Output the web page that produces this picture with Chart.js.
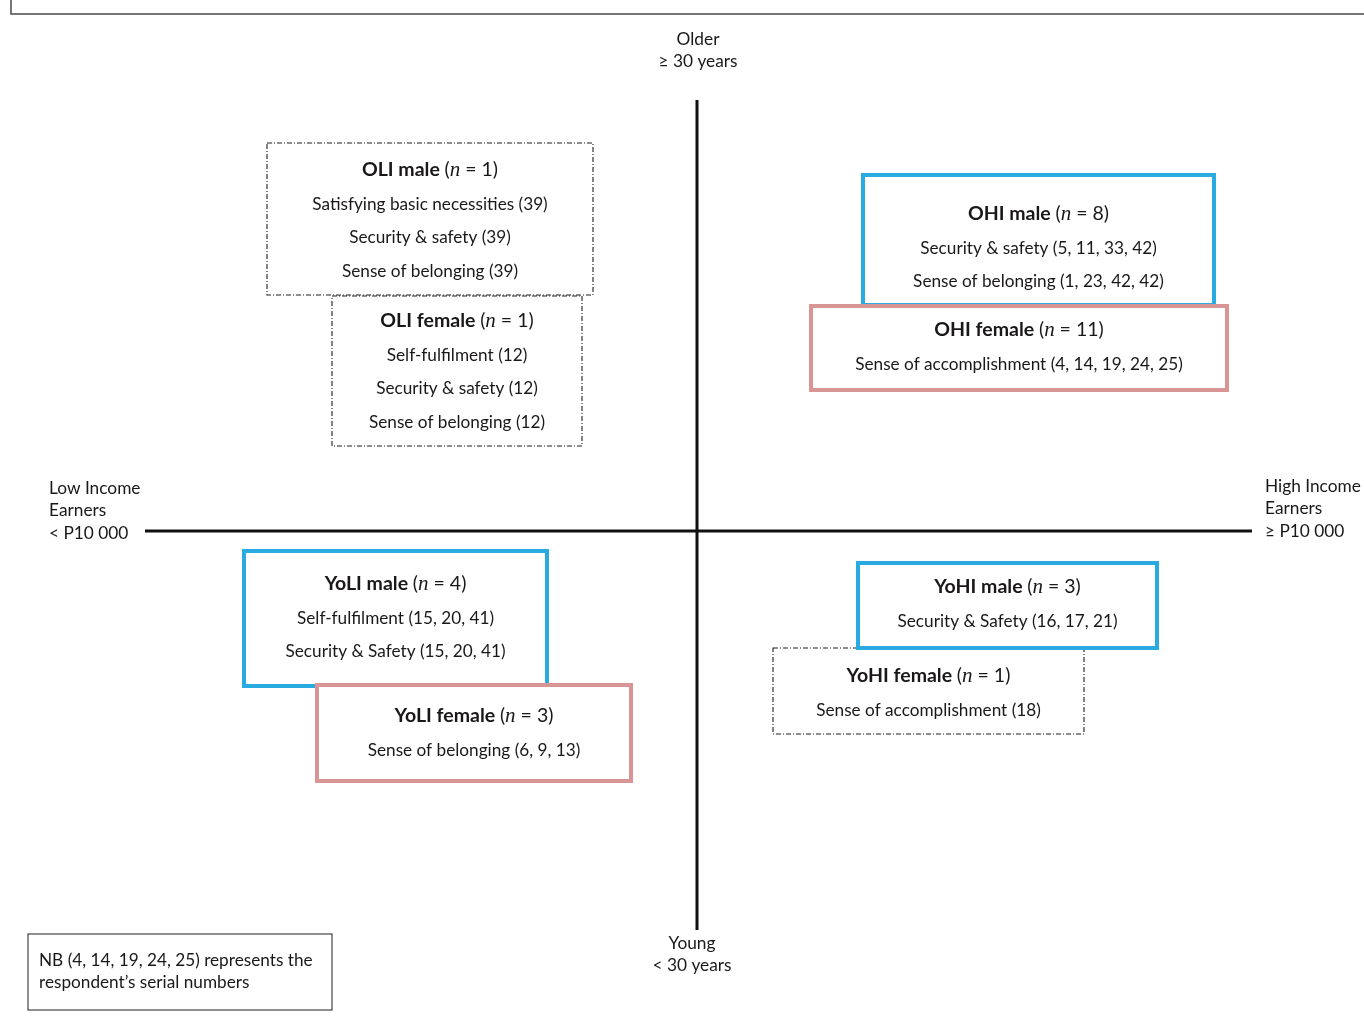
<!DOCTYPE html>
<html>
<head>
<meta charset="utf-8">
<script src="https://cdn.jsdelivr.net/npm/chart.js@4/dist/chart.umd.min.js"></script>
<style>
  html, body { margin: 0; padding: 0; background: #fff; }
  #wrap { width: 1364px; height: 1017px; }
</style>
</head>
<body>
<div id="wrap"><canvas id="quadChart" width="1364" height="1017"></canvas></div>
<script>
// groups shown in the quadrants
const groupNames = ['OLI male', 'OLI female', 'OHI male', 'OHI female',
                    'YoLI male', 'YoLI female', 'YoHI female', 'YoHI male'];
const groupN = [1, 1, 8, 11, 4, 3, 1, 3];
const groupItems = [
    ['Satisfying basic necessities (39)', 'Security & safety (39)', 'Sense of belonging (39)'],
    ['Self-fulfilment (12)', 'Security & safety (12)', 'Sense of belonging (12)'],
    ['Security & safety (5, 11, 33, 42)', 'Sense of belonging (1, 23, 42, 42)'],
    ['Sense of accomplishment (4, 14, 19, 24, 25)'],
    ['Self-fulfilment (15, 20, 41)', 'Security & Safety (15, 20, 41)'],
    ['Sense of belonging (6, 9, 13)'],
    ['Sense of accomplishment (18)'],
    ['Security & Safety (16, 17, 21)']
];
const groupKind = ['single', 'single', 'male', 'female', 'male', 'female', 'single', 'male'];

// axis labels
const topLabel = ['Older', '\u2265 30 years'];
const bottomLabel = ['Young', '< 30 years'];
const leftLabel = ['Low Income', 'Earners', '< P10 000'];
const rightLabel = ['High Income', 'Earners', '\u2265 P10 000'];
const noteLines = ['NB (4, 14, 19, 24, 25) represents the', 'respondent\u2019s serial numbers'];

// axis extents (chart units, centre of the cross = 0,0)
const incomeAxis = [-552, 555];
const ageAxis = [-399, 431];

// layout of the boxes in chart units: [left, right, top, bottom, title centre]
const boxLayout = [
    [-430, -104, 388, 236, 361],
    [-365, -115, 235, 85, 210],
    [166, 517, 356, 226, 317],
    [114, 530, 225, 141, 201],
    [-453, -150, -20, -155, -53],
    [-380, -66, -154, -250, -185],
    [76, 387, -117, -203, -145],
    [161, 460, -32, -117, -56]
];

const styles = {
    single: { color: '#1e1e1e', width: 1.1, dash: [5, 2, 1, 2] },
    male: { color: '#29abe2', width: 4, dash: [] },
    female: { color: '#d99594', width: 4, dash: [] }
};
const textColor = '#1a1718';
const sans = 'Lato, "Open Sans", sans-serif';

const quadPlugin = {
    id: 'quadPlugin',
    afterDatasetsDraw(chart) {
        const ctx = chart.ctx,
            xs = chart.scales.x,
            ys = chart.scales.y,
            px = v => xs.getPixelForValue(v),
            py = v => ys.getPixelForValue(v);
        ctx.save();

        // outer frame (top and left only)
        ctx.strokeStyle = '#4a4a4a';
        ctx.lineWidth = 1.5;
        ctx.beginPath();
        ctx.moveTo(px(-686), py(486 + 531));
        ctx.lineTo(px(-686), py(517));
        ctx.lineTo(px(667), py(517));
        ctx.stroke();

        ctx.textBaseline = 'middle';
        ctx.fillStyle = textColor;

        // axis end labels
        ctx.font = '17.3px ' + sans;
        ctx.textAlign = 'center';
        topLabel.forEach((t, i) => ctx.fillText(t, px(1), py(492 - i * 22)));
        bottomLabel.forEach((t, i) => ctx.fillText(t, px(-5), py(-412 - i * 22)));
        ctx.textAlign = 'left';
        leftLabel.forEach((t, i) => ctx.fillText(t, px(-648), py(43 - i * 22.5)));
        rightLabel.forEach((t, i) => ctx.fillText(t, px(568), py(45 - i * 22.5)));

        // boxes
        groupNames.forEach((name, i) => {
            const [l, r, t, b, ty] = boxLayout[i],
                st = styles[groupKind[i]],
                x0 = px(l), x1 = px(r), y0 = py(t), y1 = py(b);
            ctx.fillStyle = '#fff';
            ctx.fillRect(x0, y0, x1 - x0, y1 - y0);
            ctx.strokeStyle = st.color;
            ctx.lineWidth = st.width;
            ctx.setLineDash(st.dash);
            ctx.strokeRect(x0, y0, x1 - x0, y1 - y0);
            ctx.setLineDash([]);

            const cx = (x0 + x1) / 2;
            let y = py(ty);
            // title: bold name + (n = N) with italic serif n
            const parts = [
                ['bold 19.5px ' + sans, name + ' '],
                ['19.5px ' + sans, '('],
                ['italic 21px "Liberation Serif", serif', 'n'],
                ['19.5px ' + sans, ' = ' + groupN[i] + ')']
            ];
            let total = 0;
            parts.forEach(p => { ctx.font = p[0]; total += ctx.measureText(p[1]).width; });
            let x = cx - total / 2;
            ctx.textAlign = 'left';
            ctx.fillStyle = textColor;
            parts.forEach(p => {
                ctx.font = p[0];
                ctx.fillText(p[1], x, y);
                x += ctx.measureText(p[1]).width;
            });
            ctx.font = '17.2px ' + sans;
            ctx.textAlign = 'center';
            groupItems[i].forEach((line, k) => {
                ctx.fillText(line, cx, y + 34 + k * 33.5);
            });
        });

        // note box
        ctx.strokeStyle = '#231f20';
        ctx.lineWidth = 1;
        ctx.strokeRect(px(-669), py(-403), px(-365) - px(-669), py(-479) - py(-403));
        ctx.font = '17.2px ' + sans;
        ctx.textAlign = 'left';
        noteLines.forEach((t, i) => ctx.fillText(t, px(-658), py(-429 - i * 22)));

        ctx.restore();
    }
};

new Chart(document.getElementById('quadChart'), {
    type: 'scatter',
    data: {
        datasets: [{
            data: [{ x: incomeAxis[0], y: 0 }, { x: incomeAxis[1], y: 0 }],
            showLine: true,
            borderColor: '#111',
            borderWidth: 3,
            pointRadius: 0
        }, {
            data: [{ x: 0, y: ageAxis[0] }, { x: 0, y: ageAxis[1] }],
            showLine: true,
            borderColor: '#111',
            borderWidth: 3,
            pointRadius: 0
        }]
    },
    options: {
        responsive: false,
        animation: false,
        layout: { padding: 0 },
        plugins: { legend: { display: false }, tooltip: { enabled: false } },
        scales: {
            x: { type: 'linear', min: -697, max: 667, display: false },
            y: { type: 'linear', min: -486, max: 531, display: false }
        }
    },
    plugins: [quadPlugin]
});
</script>
</body>
</html>
